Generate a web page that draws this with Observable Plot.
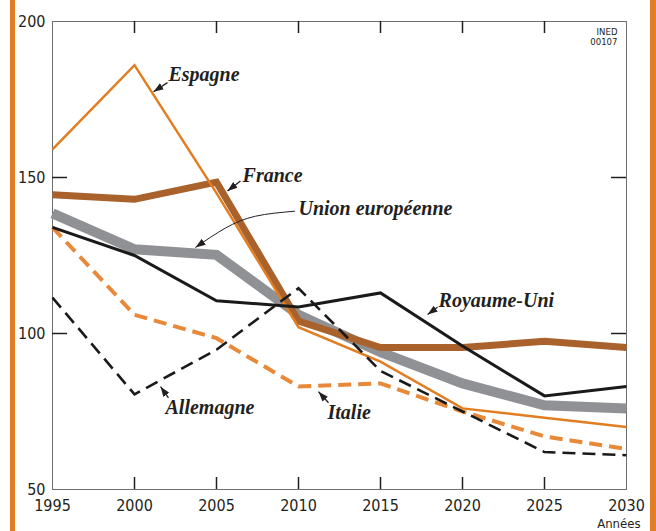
<!DOCTYPE html>
<html><head><meta charset="utf-8">
<script src="https://cdn.jsdelivr.net/npm/d3@7"></script>
<script src="https://cdn.jsdelivr.net/npm/@observablehq/plot@0.6"></script>
<style>
html,body{margin:0;padding:0;background:#fff;}
#wrap{position:relative;width:656px;height:531px;overflow:hidden;background:#fff;}
.bar{position:absolute;top:0;bottom:0;width:5px;background:#E27D21;}
#chart{position:absolute;left:0;top:0;}
</style></head><body>
<div id="wrap"><div id="chart"></div><div class="bar" style="left:10px"></div><div class="bar" style="left:650px;width:6px"></div></div>
<script>
// ---- data ----
const years = [1995, 2000, 2005, 2010, 2015, 2020, 2025, 2030];
const espagne    = [159, 186, 145, 102, 91, 76, 73, 70];
const france     = [144.5, 143, 148.5, 104, 95.5, 95.5, 97.5, 95.5];
const unionEuro  = [138.5, 127, 125.2, 106, 94, 84, 77, 76];
const royaumeUni = [134, 125, 110.5, 108.5, 113, 96, 80, 83];
const italie     = [134, 106, 98.5, 83, 84, 75, 67, 63];
const allemagne  = [111.5, 80.5, 94.8, 114.5, 88, 75, 62, 61];
const yTicks = [50, 100, 150, 200];
const innerYears = [2000, 2005, 2010, 2015, 2020, 2025];
// annotation labels (data coordinates) and arrow ends
const labelNames = ["Espagne", "France", "Union européenne", "Royaume-Uni", "Italie", "Allemagne"];
const labelYear  = [2002.07, 2006.59, 2010.0, 2018.54, 2011.77, 2001.89];
const labelValue = [181.0, 148.5, 137.9, 108.4, 72.7, 74.3];
const arrowFromYear  = [2002.01, 2006.46, 2018.48, 2011.83, 2002.07];
const arrowFromValue = [180.4, 148.9, 108.4, 77.8, 79.4];
const arrowToYear    = [2001.16, 2005.67, 2017.87, 2011.22, 2001.59];
const arrowToValue   = [177.5, 145.7, 106.1, 81.35, 82.96];
const ueArrowYear  = [2009.76, 2007.38, 2005.55, 2003.72];
const ueArrowValue = [139.2, 137.6, 133.8, 127.6];
const sourceNote = "INED\n00107";
const xAxisName = "Années";

const rowsOf = vals => years.map((year, i) => ({year, value: vals[i]}));
const labels = labelNames.map((name, i) => ({name, year: labelYear[i], value: labelValue[i]}));
const arrows = arrowFromYear.map((d, i) => ({x1: d, y1: arrowFromValue[i], x2: arrowToYear[i], y2: arrowToValue[i]}));
const uePts = ueArrowYear.map((d, i) => ({year: d, value: ueArrowValue[i]}));

function tri(color, context) {
  const doc = (context && context.document) || document;
  const m = doc.createElementNS("http://www.w3.org/2000/svg", "marker");
  m.setAttribute("viewBox", "-10 -5 10 10");
  m.setAttribute("markerWidth", "10");
  m.setAttribute("markerHeight", "10");
  m.setAttribute("markerUnits", "userSpaceOnUse");
  m.setAttribute("orient", "auto");
  m.setAttribute("refX", "0");
  m.setAttribute("refY", "0");
  const p = doc.createElementNS("http://www.w3.org/2000/svg", "path");
  p.setAttribute("d", "M-10,-3.6L0,0L-10,3.6Z");
  p.setAttribute("fill", color);
  p.setAttribute("stroke", "none");
  m.appendChild(p);
  return m;
}

const narrow = "'Liberation Sans Narrow', 'DejaVu Sans Condensed', 'Roboto', sans-serif";
const serif = "Liberation Serif, DejaVu Serif, serif";
const ink = "#231f20";
const H = 531, MT = 21, MB = 42, ML = 52, MR = 30;
const innerH = H - MT - MB, innerW = 656 - ML - MR;

const lineOpts = {x: "year", y: "value", strokeLinejoin: "miter", strokeMiterlimit: 10, strokeLinecap: "butt"};

const chart = Plot.plot({
  width: 656, height: H,
  marginLeft: ML, marginRight: MR, marginTop: MT, marginBottom: MB,
  style: {fontFamily: narrow, fontSize: "16px", color: ink, background: "transparent"},
  x: {domain: [1995, 2030]},
  y: {domain: [50, 200]},
  marks: [
    Plot.frame({stroke: "#6d6e71", strokeWidth: 1}),
    Plot.tickX(innerYears, {x: d => d, insetTop: innerH - 12, stroke: ink, strokeWidth: 1.5}),
    Plot.tickX(innerYears, {x: d => d, insetBottom: innerH - 12, stroke: ink, strokeWidth: 1.5}),
    Plot.tickY([100, 150], {y: d => d, insetRight: innerW - 15, stroke: ink, strokeWidth: 1.5}),
    Plot.tickY([100, 150], {y: d => d, insetLeft: innerW - 15, stroke: ink, strokeWidth: 1.5}),
    Plot.axisX({ticks: years, tickSize: 0, tickPadding: 10, tickFormat: d => String(d), label: null, fill: ink, fontSize: 16}),
    Plot.axisY({ticks: yTicks, tickSize: 0, tickPadding: 7, tickFormat: d => String(d), label: null, fill: ink, fontSize: 16}),
    Plot.line(rowsOf(unionEuro), {...lineOpts, stroke: "#909194", strokeWidth: 10}),
    Plot.line(rowsOf(france), {...lineOpts, stroke: "#a9622c", strokeWidth: 7}),
    Plot.line(rowsOf(espagne), {...lineOpts, stroke: "#e27d21", strokeWidth: 2.5}),
    Plot.line(rowsOf(italie), {...lineOpts, stroke: "#e8893a", strokeWidth: 4, strokeDasharray: "13,7"}),
    Plot.line(rowsOf(allemagne), {...lineOpts, stroke: "#1a1a1a", strokeWidth: 2.6, strokeDasharray: "13,7"}),
    Plot.line(rowsOf(royaumeUni), {...lineOpts, stroke: "#1a1a1a", strokeWidth: 3}),
    Plot.link(arrows, {x1: "x1", y1: "y1", x2: "x2", y2: "y2", stroke: ink, strokeWidth: 1.3, markerEnd: tri}),
    Plot.line(uePts, {x: "year", y: "value", curve: "natural", stroke: ink, strokeWidth: 1, markerEnd: tri}),
    Plot.text(labels, {x: "year", y: "value", text: "name", textAnchor: "start", lineAnchor: "bottom",
      fontFamily: serif, fontStyle: "italic", fontWeight: "bold", fontSize: 20, fill: ink}),
    Plot.text([sourceNote], {text: d => d, frameAnchor: "top-right", dx: -9, dy: 6, textAnchor: "end", lineAnchor: "top",
      lineHeight: 1.05, fontSize: 9.5, fill: ink}),
    Plot.text([xAxisName], {text: d => d, frameAnchor: "bottom-right", dx: 14, dy: 38, textAnchor: "end", lineAnchor: "bottom",
      fontSize: 13, fill: ink})
  ]
});
document.getElementById("chart").appendChild(chart);
</script>
</body></html>
